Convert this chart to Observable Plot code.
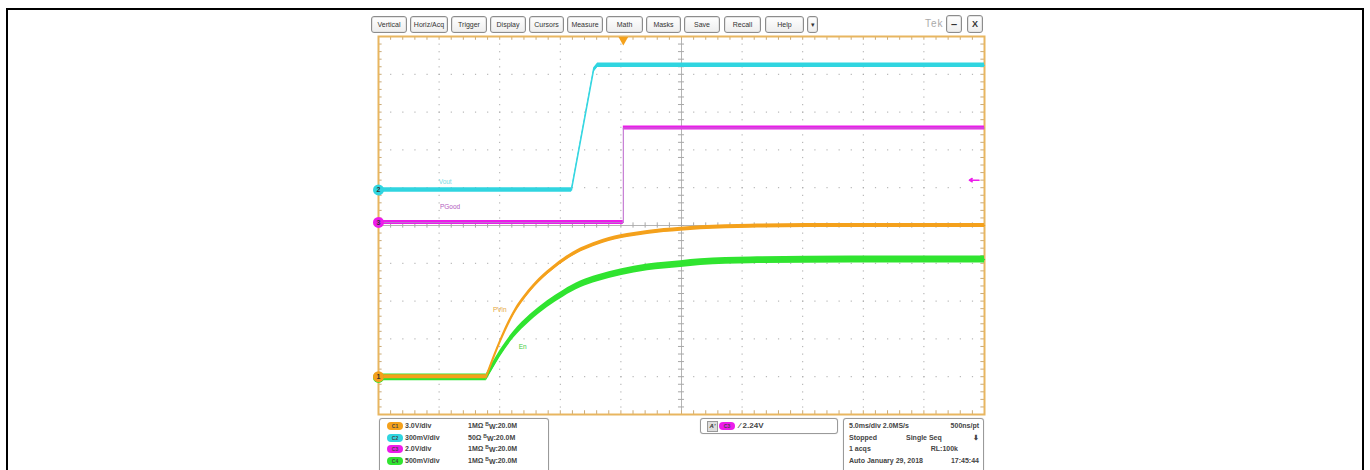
<!DOCTYPE html>
<html><head><meta charset="utf-8">
<script src="https://cdn.jsdelivr.net/npm/d3@7"></script>
<script src="https://cdn.jsdelivr.net/npm/@observablehq/plot@0.6"></script>
<style>
html,body{margin:0;padding:0;background:#fff;}
#page{position:relative;width:1370px;height:470px;overflow:hidden;background:#fff;font-family:"Liberation Sans",Arial,sans-serif;}
#border{position:absolute;left:6px;top:8px;width:1354px;height:490px;border:2px solid #000;}
.btn{position:absolute;top:16px;height:17px;border:1px solid #8c8c8c;border-radius:3px;background:linear-gradient(#ffffff,#eeeeee);font-size:7px;color:#333;display:flex;align-items:center;justify-content:center;box-sizing:border-box;box-shadow:0 0 0 1px #e4e4e4 inset;}
.box{position:absolute;border:1px solid #9a9a9a;border-radius:3px;box-sizing:border-box;background:#fff;box-shadow:0 0 1px #bbb;}
.t{position:absolute;font-size:7px;font-weight:bold;color:#444;white-space:nowrap;line-height:8px;}
.badge{position:absolute;width:16px;height:8px;border-radius:4px;font-size:5px;font-weight:bold;color:#444;text-align:center;line-height:8px;}
#chart{position:absolute;left:370px;top:28px;}
</style></head>
<body><div id="page"><div id="border"></div><div id="chart"></div></div>
<script>
// ---------- data ----------
// time in ms relative to the trigger point, 5 ms/div
const ch1Time  = [-20.2, -11.3, -10.14, -9.07, -7.66, -6.26, -4.93, -3.53, -2.12, -0.22, 2.0, 4.74, 6.39, 10.5, 18.8, 29.8];
const ch1Volts = [0, 0, 2.85, 5.0, 6.9, 8.25, 9.25, 10.05, 10.6, 11.1, 11.45, 11.7, 11.82, 11.95, 12.0, 12.0];
const ch4Time  = [-20.2, -11.3, -10.14, -9.07, -7.66, -6.26, -4.93, -3.53, -2.12, -0.22, 2.0, 4.74, 6.39, 10.5, 18.8, 29.8];
const ch4Volts = [0, 0, 0.32, 0.56, 0.79, 0.97, 1.11, 1.23, 1.31, 1.39, 1.455, 1.50, 1.525, 1.548, 1.56, 1.56];
const ch2Time  = [-20.2, -4.27, -2.45, -2.12, 29.8];
const ch2Volts = [0, 0, 0.95, 0.99, 0.99];
const ch3Time  = [-20.2, 0, 0, 29.8];
const ch3Volts = [0, 0, 5.0, 5.0];

const channelNames  = ["Vout", "PGood", "PVin", "En"];
const channelIds    = ["C1", "C2", "C3", "C4"];
const channelScales = ["3.0V/div", "300mV/div", "2.0V/div", "500mV/div"];
const channelInputs = ["1MΩ", "50Ω", "1MΩ", "1MΩ"];
const channelBW     = ["20.0M", "20.0M", "20.0M", "20.0M"];
const voltsPerDiv   = [3.0, 0.3, 2.0, 0.5];      // C1..C4
const offsetDiv     = [-4.0, 0.94, 0.08, -4.02]; // marker positions, divisions from centre
const triggerLevel  = 2.24;                      // V on C3
const menuItems = ["Vertical", "Horiz/Acq", "Trigger", "Display", "Cursors", "Measure", "Math", "Masks", "Save", "Recall", "Help", "▾"];
const statusLeft  = ["5.0ms/div  2.0MS/s", "Stopped", "1 acqs", "Auto    January 29, 2018"];
const statusMid   = ["", "Single Seq", "", ""];
const statusRight = ["500ns/pt", "⬇", "RL:100k", "17:45:44"];

// ---------- layout / style ----------
const colors = {C1: "#f4a11c", C2: "#30d5e0", C3: "#ec1cea", C4: "#30e430"};
const labelColors = {Vout: "#7adbe4", PGood: "#b45cc0", PVin: "#e6a640", En: "#3ccc3c"};
const labelPos = {Vout: [-14.7, 1.16], PGood: [-14.3, 0.48], PVin: [-10.2, -2.22], En: [-8.3, -3.22]};
const btnLeft  = [371, 410, 451, 490, 529, 567, 606, 646, 684, 724, 765, 807];
const btnWidth = [36, 38, 36, 36, 35, 36, 37, 35, 36, 37, 39, 11];

const page = document.getElementById("page");
menuItems.forEach((m, i) => {
  const b = document.createElement("div");
  b.className = "btn"; b.textContent = m;
  b.style.left = btnLeft[i] + "px"; b.style.width = btnWidth[i] + "px";
  page.appendChild(b);
});
page.insertAdjacentHTML("beforeend",
  `<div style="position:absolute;left:925px;top:18px;font-size:10px;color:#aaa;letter-spacing:1px">Tek</div>
   <div class="btn" style="left:946px;width:16px;top:15px;height:18px;font-size:11px;font-weight:bold">–</div>
   <div class="btn" style="left:967px;width:16px;top:15px;height:18px;font-size:9px;font-weight:bold">X</div>`);

// bottom panel
const bottomHTML = [];
bottomHTML.push(`<div class="box" style="left:379px;top:418px;width:170px;height:60px"></div>`);
bottomHTML.push(`<div class="box" style="left:700px;top:418px;width:138px;height:16px"></div>`);
bottomHTML.push(`<div class="box" style="left:843px;top:418px;width:141px;height:60px"></div>`);
const rowY = [422, 433.5, 445, 456.5];
channelIds.forEach((c, i) => {
  bottomHTML.push(`<div class="badge" style="left:387px;top:${rowY[i]}px;background:${colors[c]}">${c}</div>`);
  bottomHTML.push(`<div class="t" style="left:405px;top:${rowY[i]}px">${channelScales[i]}</div>`);
  bottomHTML.push(`<div class="t" style="left:468px;top:${rowY[i]}px">${channelInputs[i]}&nbsp;<span style="font-size:5px;position:relative;top:-2px">B</span><span style="position:relative;top:1px">W</span>:${channelBW[i]}</div>`);
});
bottomHTML.push(`<div style="position:absolute;left:707px;top:421px;width:9px;height:9px;background:#ddd;border:1px solid #999;font-size:6px;font-style:italic;font-weight:bold;line-height:9px;text-align:center;color:#333">A'</div>`);
bottomHTML.push(`<div class="badge" style="left:719px;top:422px;background:${colors.C3}">C3</div>`);
bottomHTML.push(`<div class="t" style="left:739px;top:422px;font-size:8px">⁄ ${triggerLevel.toFixed(2)}V</div>`);
statusLeft.forEach((s, i) => {
  bottomHTML.push(`<div class="t" style="left:849px;top:${rowY[i]}px">${s}</div>`);
  if (statusMid[i]) bottomHTML.push(`<div class="t" style="left:906px;top:${rowY[i]}px">${statusMid[i]}</div>`);
  const rr = i === 2 ? 1370 - 958 : 1370 - 979;
  bottomHTML.push(`<div class="t" style="right:${rr}px;top:${rowY[i]}px">${statusRight[i]}</div>`);
});
page.insertAdjacentHTML("beforeend", bottomHTML.join(""));

// ---------- chart ----------
const tMin = -20.2, tMax = 29.8, tCenter = tMin + 25;
const toDiv = (ch) => (v) => offsetDiv[ch] + v / voltsPerDiv[ch];
// split each trace at its corners so the flat part and the rising part are separate pieces
function series(times, volts, ch) {
  const out = [];
  let seg = 0;
  times.forEach((t, i) => {
    const p = {t, d: toDiv(ch)(volts[i]), seg};
    out.push(p);
    const flatBefore = i > 0 && volts[i] === volts[i - 1];
    const risesAfter = i < times.length - 1 && volts[i + 1] !== volts[i];
    if (flatBefore && risesAfter) { seg++; out.push({...p, seg}); }
  });
  return out;
}
const s1 = series(ch1Time, ch1Volts, 0);
const s2 = series(ch2Time, ch2Volts, 1);
const s3 = series(ch3Time, ch3Volts, 2);
const s4 = series(ch4Time, ch4Volts, 3);

const gridT   = d3.range(1, 10).map(i => tMin + 5 * i).filter(t => Math.abs(t - tCenter) > 1e-6);
const gridDiv = [-4, -3, -2, -1, 1, 2, 3, 4];
const minorT  = d3.range(1, 50).map(i => tMin + i);
const minorDiv = d3.range(-24, 25).map(i => i / 5);
const pxDiv = 37.8;
const band = (s, half, color, curve) => Plot.areaY(s, {x: "t", y1: d => d.d - half / pxDiv, y2: d => d.d + half / pxDiv, z: "seg", fill: color, curve});
const thin = (s, color, w, curve) => Plot.line(s, {x: "t", y: "d", z: "seg", stroke: color, strokeWidth: w, curve});
const tickCol = "#a8a8a8", edgeCol = "#c9aa78";

const chart = Plot.plot({
  width: 622, height: 394,
  marginLeft: 8, marginRight: 8, marginTop: 8, marginBottom: 8,
  x: {domain: [tMin, tMax], axis: null},
  y: {domain: [-5, 5], axis: null},
  style: {background: "transparent", overflow: "visible", fontFamily: "Liberation Sans, Arial, sans-serif"},
  marks: [
    Plot.ruleY(gridDiv, {y: d => d, stroke: tickCol, strokeDasharray: "1.2,10.92", strokeWidth: 1}),
    Plot.ruleX(gridT, {x: d => d, stroke: tickCol, strokeDasharray: "1.2,6.36", strokeWidth: 1}),
    Plot.ruleY([0], {stroke: "#b4b4b4", strokeWidth: 1}),
    Plot.ruleX([tCenter], {stroke: "#b4b4b4", strokeWidth: 1}),
    Plot.ruleX(minorT, {x: d => d, y1: -0.07, y2: 0.07, stroke: tickCol}),
    Plot.ruleY(minorDiv, {y: d => d, x1: tCenter - 0.25, x2: tCenter + 0.25, stroke: tickCol}),
    Plot.ruleX(minorT, {x: d => d, y1: 5, y2: 4.9, stroke: edgeCol}),
    Plot.ruleX(minorT, {x: d => d, y1: -5, y2: -4.9, stroke: edgeCol}),
    Plot.ruleY(minorDiv, {y: d => d, x1: tMin, x2: tMin + 0.3, stroke: edgeCol}),
    Plot.ruleY(minorDiv, {y: d => d, x1: tMax, x2: tMax - 0.3, stroke: edgeCol}),
    Plot.frame({stroke: "#e8b660", strokeWidth: 2}),
    // traces
    band(s4, 3.4, colors.C4, "monotone-x"), thin(s4, colors.C4, 1.4, "monotone-x"),
    band(s1, 2.0, colors.C1, "monotone-x"), thin(s1, colors.C1, 1.5, "monotone-x"),
    band(s2, 2.2, colors.C2, "linear"), thin(s2, colors.C2, 1.2, "linear"),
    band(s3, 2.1, colors.C3, "linear"), thin(s3, "#c070d0", 1.1, "linear"),
    // trace labels
    Plot.text(channelNames, {x: n => labelPos[n][0], y: n => labelPos[n][1], text: n => n, fill: n => labelColors[n], fontSize: 6.5}),
    // channel markers
    Plot.dot(channelIds, {x: tMin, y: (c, i) => offsetDiv[i], r: 5.5, fill: c => colors[c], sort: (c) => -channelIds.indexOf(c)}),
    Plot.text(["1", "2", "3"], {x: tMin, y: (c, i) => offsetDiv[i], text: d => d, fontSize: 7, fill: "#333", fontWeight: "bold"}),
    // trigger position and level
    Plot.dot([0], {x: d => d, y: 4.91, symbol: "triangle", rotate: 180, r: 3.6, fill: colors.C1}),
    Plot.arrow([triggerLevel], {x1: 29.35, x2: 28.55, y1: v => toDiv(2)(v), y2: v => toDiv(2)(v), stroke: colors.C3, strokeWidth: 1.5, headLength: 5})
  ]
});
document.getElementById("chart").appendChild(chart);
</script>
</body></html>
